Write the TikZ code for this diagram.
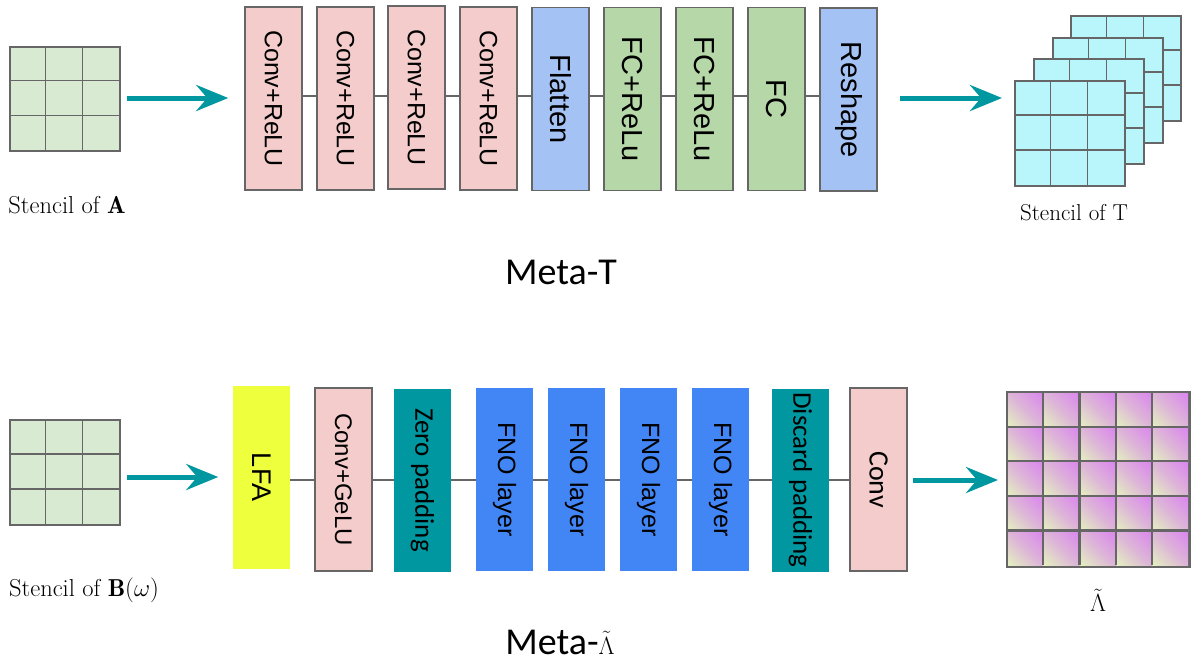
\documentclass[tikz,border=0pt]{standalone}
\usepackage{fontspec}
\usetikzlibrary{arrows.meta}
\newfontfamily\arialf{Liberation Sans}
\newfontfamily\calf{Carlito}
\definecolor{edge}{HTML}{666666}
\definecolor{pinkc}{HTML}{F4CCCC}
\definecolor{bluec}{HTML}{A4C2F4}
\definecolor{greenc}{HTML}{B6D7A8}
\definecolor{gridg}{HTML}{D9EAD3}
\definecolor{cyanc}{HTML}{B9F6FB}
\definecolor{yellowc}{HTML}{EEFF3E}
\definecolor{tealc}{HTML}{0097A0}
\definecolor{fnoc}{HTML}{4285F4}
\definecolor{magc}{HTML}{DA86EE}
\definecolor{midc}{HTML}{DDB4D8}
\definecolor{yelc}{HTML}{E4EFC0}
\pgfdeclareverticalshading{lamshade}{100bp}{color(0bp)=(yelc); color(16bp)=(yelc); color(50bp)=(midc); color(84bp)=(magc); color(100bp)=(magc)}
\newcommand{\mystencil}[7]{% name, x, y, w, h, n, fill
  \node[gridbox, fill=#7, minimum width=#4pt, minimum height=#5pt] (#1) at (#2,#3) {};
  \foreach \k in {1,...,\numexpr#6-1\relax}{
    \draw[gl] ({#2+\k*#4/#6},#3) -- ({#2+\k*#4/#6},{#3+#5});
    \draw[gl] (#2,{#3+\k*#5/#6}) -- ({#2+#4},{#3+\k*#5/#6});
  }
  \node[gridbox, minimum width=#4pt, minimum height=#5pt] at (#2,#3) {};
}
\begin{document}
\begin{tikzpicture}[x=1pt,y=-1pt,
  box/.style={rotate=-90, minimum width=183pt, minimum height=57pt, inner sep=0pt, line width=1.5pt},
  ebox/.style={box, draw=edge},
  gridbox/.style={draw=edge, line width=1.6pt, anchor=north west, inner sep=0pt},
  gl/.style={draw=edge, line width=1.6pt},
  conn/.style={draw=edge, line width=2.2pt},
  arr/.style={draw=tealc, line width=5pt, -{Stealth[length=32pt,width=26pt,inset=11pt]}},
  conv/.style={font=\arialf\fontsize{25}{28}\selectfont},
  big/.style={font=\arialf\fontsize{29}{32}\selectfont},
  seg/.style={font=\calf\fontsize{27}{30}\selectfont},
  lbl/.style={font=\fontsize{24.5}{28}\selectfont, inner sep=0pt}
]
\useasboundingbox (0,0) rectangle (1192,662);

% ---------- Meta-T ----------
\mystencil{gA}{9}{46}{110}{104}{3}{gridg}

\node[ebox, fill=pinkc, conv] (t1) at (273.5,98.5) {Conv+ReLU};
\node[ebox, fill=pinkc, conv] (t2) at (345.5,98.5) {Conv+ReLU};
\node[ebox, fill=pinkc, conv] (t3) at (416.5,97.5) {Conv+ReLU};
\node[ebox, fill=pinkc, conv] (t4) at (488.5,98.5) {Conv+ReLU};
\node[ebox, fill=bluec, big] (t5) at (560.5,99) {Flatten};
\node[ebox, fill=greenc, big] (t6) at (632.5,99) {FC+ReLu};
\node[ebox, fill=greenc, big] (t7) at (704.5,99) {FC+ReLu};
\node[ebox, fill=greenc, big] (t8) at (776.5,99) {FC};
\node[ebox, fill=bluec, big] (t9) at (848.5,99.5) {Reshape};

\foreach \a/\b in {t1/t2,t2/t3,t3/t4,t4/t5,t5/t6,t6/t7,t7/t8,t8/t9}
  \draw[conn] (\a.center |- 0,96) -- (\b.center |- 0,96);
% redraw boxes over connectors
\node[ebox, fill=pinkc, conv] at (273.5,98.5) {Conv+ReLU};
\node[ebox, fill=pinkc, conv] at (345.5,98.5) {Conv+ReLU};
\node[ebox, fill=pinkc, conv] at (416.5,97.5) {Conv+ReLU};
\node[ebox, fill=pinkc, conv] at (488.5,98.5) {Conv+ReLU};
\node[ebox, fill=bluec, big] at (560.5,99) {Flatten};
\node[ebox, fill=greenc, big] at (632.5,99) {FC+ReLu};
\node[ebox, fill=greenc, big] at (704.5,99) {FC+ReLu};
\node[ebox, fill=greenc, big] at (776.5,99) {FC};
\node[ebox, fill=bluec, big] at (848.5,99.5) {Reshape};

\mystencil{gT4}{1070}{15}{110}{105}{3}{cyanc}
\mystencil{gT3}{1052}{37}{110}{105}{3}{cyanc}
\mystencil{gT2}{1033}{58}{110}{105}{3}{cyanc}
\mystencil{gT}{1014}{80}{110}{105}{3}{cyanc}

\coordinate (a1s) at (127,98);
\coordinate (a2e) at (1002,98);
\draw[arr] (a1s) -- ([xshift=-16pt]t1.south |- a1s);
\draw[arr] ([xshift=22pt]t9.north |- a2e) -- (a2e);

\node[lbl] (lA) at (67,205) {Stencil of $\mathbf{A}$};
\node[lbl, font=\fontsize{23}{27}\selectfont] (lT) at (1074,213) {Stencil of T};
\node[font=\calf\fontsize{38}{42}\selectfont, inner sep=0pt] (mT) at (561,272) {Meta-T};

% ---------- Meta-Lambda ----------
\mystencil{gB}{9}{419}{110}{105}{3}{gridg}

\node[box, fill=yellowc, font=\arialf\fontsize{27}{30}\selectfont] (b1) at (261.5,477) {LFA};
\node[ebox, fill=pinkc, font=\arialf\fontsize{24}{27}\selectfont] (b2) at (343.5,479.5) {Conv+GeLU};
\node[box, fill=tealc, seg] (b3) at (422.5,480) {Zero padding};
\node[box, fill=fnoc, conv] (b4) at (504.5,479.5) {FNO layer};
\node[box, fill=fnoc, conv] (b5) at (576.5,479.5) {FNO layer};
\node[box, fill=fnoc, conv] (b6) at (648.5,479.5) {FNO layer};
\node[box, fill=fnoc, conv] (b7) at (720.5,479.5) {FNO layer};
\node[box, fill=tealc, seg] (b8) at (800.5,480) {Discard padding};
\node[ebox, fill=pinkc, font=\calf\fontsize{28}{31}\selectfont] (b9) at (878.5,479.5) {Conv};

\foreach \a/\b in {b1/b2,b2/b3,b3/b4,b4/b5,b5/b6,b6/b7,b7/b8,b8/b9}
  \draw[conn] (\a.center |- 0,480) -- (\b.center |- 0,480);
% redraw boxes over connectors
\node[box, fill=yellowc, font=\arialf\fontsize{27}{30}\selectfont] at (261.5,477) {LFA};
\node[ebox, fill=pinkc, font=\arialf\fontsize{24}{27}\selectfont] at (343.5,479.5) {Conv+GeLU};
\node[box, fill=tealc, seg] at (422.5,480) {Zero padding};
\node[box, fill=fnoc, conv] at (504.5,479.5) {FNO layer};
\node[box, fill=fnoc, conv] at (576.5,479.5) {FNO layer};
\node[box, fill=fnoc, conv] at (648.5,479.5) {FNO layer};
\node[box, fill=fnoc, conv] at (720.5,479.5) {FNO layer};
\node[box, fill=tealc, seg] at (800.5,480) {Discard padding};
\node[ebox, fill=pinkc, font=\calf\fontsize{28}{31}\selectfont] at (878.5,479.5) {Conv};

% Lambda grid
\node[gridbox, minimum width=181pt, minimum height=173pt] (gL) at (1007,392) {};
\foreach \i in {0,...,4}{
  \foreach \j in {0,...,4}{
    \shade[shading=lamshade, shading angle=-45]
      ({1007+\i*36.2},{392+\j*34.6}) rectangle ++(36.2,34.6);
  }
}
\foreach \k in {1,...,4}{
  \draw[gl, line width=2.2pt] ({1007+\k*36.2},392) -- ({1007+\k*36.2},565);
  \draw[gl, line width=2.2pt] (1007,{392+\k*34.6}) -- (1188,{392+\k*34.6});
}
\draw[gl, line width=2.2pt] (gL.north west) rectangle (gL.south east);

\coordinate (a3s) at (127,477);
\coordinate (a4e) at (998,480);
\draw[arr] (a3s) -- ([xshift=-14pt]b1.south |- a3s);
\draw[arr] ([xshift=5pt]b9.north |- a4e) -- (a4e);

\node[lbl] (lB) at (84,590) {Stencil of $\mathbf{B}(\omega)$};
\node[lbl] (lL) at (1098,600) {$\tilde{\Lambda}$};
\node[inner sep=0pt] (mL) at (560,642) {{\calf\fontsize{38}{42}\selectfont Meta-}{\fontsize{32}{36}\selectfont$\tilde{\Lambda}$}};
\end{tikzpicture}
\end{document}
